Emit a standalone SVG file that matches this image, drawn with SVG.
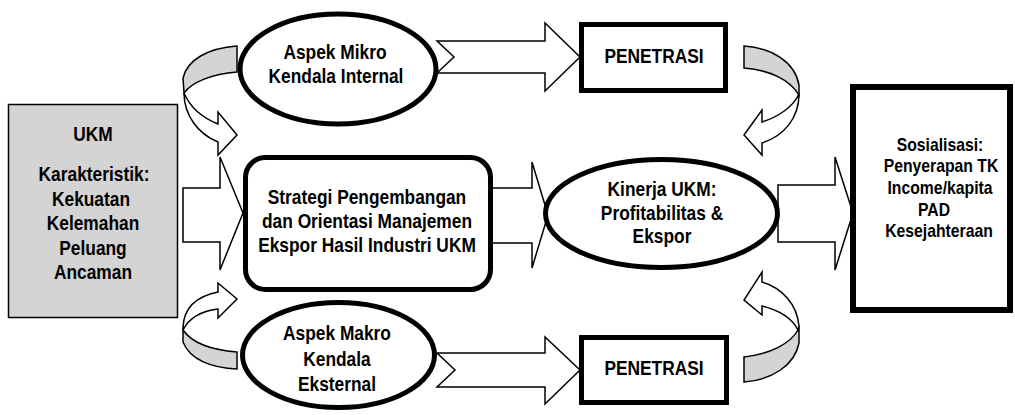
<svg xmlns="http://www.w3.org/2000/svg" width="1015" height="415" viewBox="0 0 1015 415">
<style>
.t{font-family:"Liberation Sans",Arial,sans-serif;font-size:19.5px;font-weight:bold;fill:#000;text-anchor:middle}
.s{font-size:19px}
.ar{fill:#fff;stroke:#000;stroke-width:1.5;stroke-linejoin:miter}
.bk{fill:#d4d4d4;stroke:#000;stroke-width:1.5}
.nd{fill:#fff;stroke:#000;stroke-width:5}
</style>
<rect width="1015" height="415" fill="#fff"/>
<g id="connectors">
  <polygon class="ar" points="183,188 220,188 220,157 243,213 220,270 220,242 183,242"/>
  <polygon class="ar" points="437,41 545,41 545,23 580,57 545,91 545,73 437,73 454,57"/>
  <polygon class="ar" points="437,353 545,353 545,337 580,370 545,404 545,387 437,387 455,370"/>
  <polygon class="ar" points="470,188 532,188 532,162 548,215 532,268 532,243 470,243"/>
  <polygon class="ar" points="778,185 835,185 835,157 853,213 835,270 835,242 778,242"/>
  <path class="bk" d="M237,46 C208,48 187,60 183,78 L184,93 C192,82 212,74 237,72 Z"/>
  <path class="ar" d="M184,93 C184,115 198,134 218,142 L218,155 L237,135 L218,112 L218,124 C203,118 190,107 184,93 Z"/>
  <path class="bk" d="M183,330 L183,342 C190,360 212,368 237,369 L237,352 C212,350 192,343 183,330 Z"/>
  <path class="ar" d="M183,330 L183,327 C184,307 198,296 218,292 L218,283 L237,299 L218,318 L218,309 C202,311 189,318 183,330 Z"/>
  <path class="bk" d="M744,46 C772,48 795,62 799,85 L799,95 C790,80 770,70 744,68 Z"/>
  <path class="ar" d="M799,94 C799,118 784,136 762,143 L762,155 L744,135 L762,110 L762,122 C778,117 793,107 799,94 Z"/>
  <path class="bk" d="M799,326 L799,343 C795,365 772,380 744,382 L744,357 C770,354 790,344 798,330 Z"/>
  <path class="ar" d="M799,326 C797,304 782,288 762,282 L762,272 L744,300 L762,315 L762,306 C778,310 792,318 798,330 Z"/>
</g>
<g id="ukm">
  <rect x="8.5" y="104.5" width="169" height="213" fill="#d4d4d4" stroke="#000" stroke-width="1.5"/>
  <text class="t" transform="matrix(0.89,0,0,1,93,141)">UKM</text>
  <text class="t" transform="matrix(0.89,0,0,1,94,181)">Karakteristik:</text>
  <text class="t" transform="matrix(0.89,0,0,1,91,205.5)">Kekuatan</text>
  <text class="t" transform="matrix(0.89,0,0,1,93,230)">Kelemahan</text>
  <text class="t" transform="matrix(0.89,0,0,1,93,254.5)">Peluang</text>
  <text class="t" transform="matrix(0.89,0,0,1,93,279)">Ancaman</text>
</g>
<g id="mikro">
  <ellipse class="nd" cx="338" cy="69" rx="98" ry="55"/>
  <text class="t" transform="matrix(0.89,0,0,1,335,59)">Aspek Mikro</text>
  <text class="t" transform="matrix(0.89,0,0,1,336,83)">Kendala Internal</text>
</g>
<g id="makro">
  <ellipse class="nd" cx="338.5" cy="355" rx="96" ry="52.5"/>
  <text class="t" transform="matrix(0.89,0,0,1,337,340)">Aspek Makro</text>
  <text class="t" transform="matrix(0.89,0,0,1,337,366)">Kendala</text>
  <text class="t" transform="matrix(0.89,0,0,1,337,390.5)">Eksternal</text>
</g>
<g id="strategi">
  <rect class="nd" x="245.5" y="157.5" width="245" height="132" rx="20"/>
  <text class="t" transform="matrix(0.89,0,0,1,367,204)">Strategi Pengembangan</text>
  <text class="t" transform="matrix(0.89,0,0,1,367,228)">dan Orientasi Manajemen</text>
  <text class="t" transform="matrix(0.89,0,0,1,367,252)">Ekspor Hasil Industri UKM</text>
</g>
<g id="penetrasi-top">
  <rect class="nd" x="581.5" y="24.5" width="144" height="66"/>
  <text class="t" transform="matrix(0.89,0,0,1,654,62.5)">PENETRASI</text>
</g>
<g id="penetrasi-bottom">
  <rect class="nd" x="581.5" y="337.5" width="145" height="65"/>
  <text class="t" transform="matrix(0.89,0,0,1,654,375)">PENETRASI</text>
</g>
<g id="kinerja">
  <ellipse class="nd" cx="661.5" cy="213.5" rx="116" ry="54"/>
  <text class="t" transform="matrix(0.89,0,0,1,662,196)">Kinerja UKM:</text>
  <text class="t" transform="matrix(0.89,0,0,1,662,219.5)">Profitabilitas &amp;</text>
  <text class="t" transform="matrix(0.89,0,0,1,662,243)">Ekspor</text>
</g>
<g id="sosialisasi">
  <rect x="853" y="87" width="157" height="223" fill="#fff" stroke="#000" stroke-width="6"/>
  <text class="t s" transform="matrix(0.83,0,0,1,940,151)">Sosialisasi:</text>
  <text class="t s" transform="matrix(0.83,0,0,1,941,172)">Penyerapan TK</text>
  <text class="t s" transform="matrix(0.83,0,0,1,940,193.5)">Income/kapita</text>
  <text class="t s" transform="matrix(0.83,0,0,1,934,215.5)">PAD</text>
  <text class="t s" transform="matrix(0.83,0,0,1,939,237)">Kesejahteraan</text>
</g>
</svg>
